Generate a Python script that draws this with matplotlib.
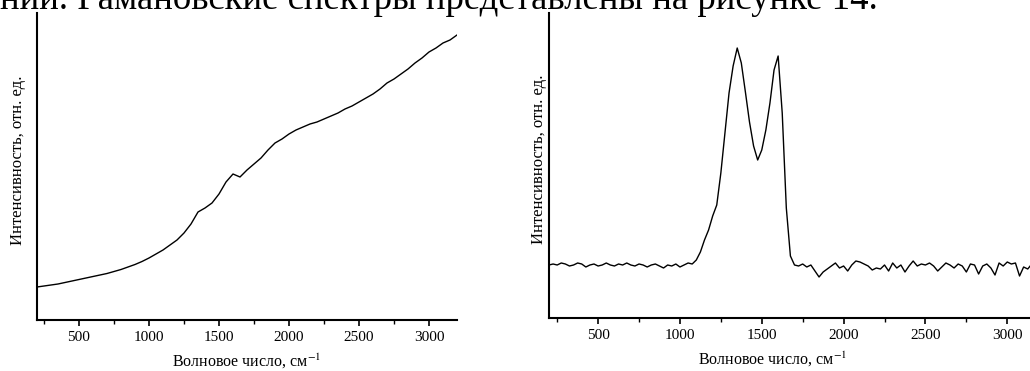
import numpy as np
import matplotlib.pyplot as plt
from matplotlib.ticker import MultipleLocator

plt.rcParams['font.family'] = ['Liberation Serif', 'DejaVu Serif']
plt.rcParams['mathtext.fontset'] = 'stix'

# Left spectrum (sloping background), step 50 cm-1
left_y = [33, 34, 35, 36, 37.5, 39, 40.5, 42, 43.5, 45, 46.5, 48.5, 50.5, 53, 55.5, 58.5,
          62, 66, 70, 75, 80, 87, 96, 108, 112, 117, 126, 138, 146, 143, 150, 156,
          162, 170, 177, 181, 186, 190, 193, 196, 198, 201, 204, 207, 211, 214, 218, 222,
          226, 231, 237, 241, 246, 251, 257, 262, 268, 272, 277, 280, 285]
left_x = np.linspace(200, 3200, len(left_y))

# Right spectrum (D and G bands), step 25 cm-1
right_y = [53, 54, 53, 55, 54, 52, 53, 55, 54, 51, 53, 54, 52, 53, 55, 53,
           52, 54, 53, 55, 53, 52, 54, 53, 51, 53, 54, 52, 50, 53, 52, 54,
           51, 53, 55, 54, 58, 66, 78, 88, 102, 113, 145, 185, 225, 252,
           270, 255, 226, 196, 172, 158, 168, 188, 215, 248, 262, 205, 110, 62,
           53, 52, 54, 51, 53, 47, 41, 46, 49, 52, 55, 50, 52, 47, 53, 57,
           56, 54, 52, 48, 50, 49, 53, 47, 55, 50, 53, 46, 52, 57, 52, 54,
           53, 55, 52, 47, 51, 55, 53, 50, 54, 52, 46, 54, 53, 44, 52, 54,
           50, 43, 55, 52, 56, 54, 55, 42, 51, 49, 54, 45, 52]
right_x = np.linspace(200, 3200, len(right_y))

xlabel = 'Волновое число, см$^{-1}$'
ylabel = 'Интенсивность, отн. ед.'
header = 'ний. Рамановские спектры представлены на рисунке 14.'

fig = plt.figure(figsize=(10.3, 3.71), dpi=100)
fig.text(0.0, 1 - 9 / 371, header, fontsize=26.5, va='baseline', ha='left')

ax1 = fig.add_axes([37 / 1030, 1 - 320 / 371, 420 / 1030, 307 / 371])
ax2 = fig.add_axes([549 / 1030, 1 - 318 / 371, 491 / 1030, 305 / 371])

for ax, x, y, top in [(ax1, left_x, left_y, 307), (ax2, right_x, right_y, 305)]:
    ax.plot(x, y, color='black', lw=1.0)
    ax.set_xlim(200, 3200)
    ax.set_ylim(0, top)
    ax.spines['top'].set_visible(False)
    ax.spines['right'].set_visible(False)
    ax.spines['left'].set_linewidth(1.5)
    ax.spines['bottom'].set_linewidth(1.5)
    ax.set_yticks([])
    ax.xaxis.set_major_locator(MultipleLocator(500))
    ax.xaxis.set_minor_locator(MultipleLocator(250))
    ax.tick_params(axis='x', which='major', direction='out', length=4, width=1.2,
                   labelsize=11, pad=4)
    ax.tick_params(axis='x', which='minor', direction='out', length=3, width=1.0)
    ax.set_xlabel(xlabel, fontsize=11.5)
    ax.set_ylabel(ylabel, fontsize=12)

ax1.xaxis.set_label_coords(0.5, -0.105)
ax1.yaxis.set_label_coords(-0.026, 0.52)
ax2.xaxis.set_label_coords(0.455, -0.105)
ax2.yaxis.set_label_coords(-0.004, 0.52)

fig.savefig('out.png', dpi=100)
